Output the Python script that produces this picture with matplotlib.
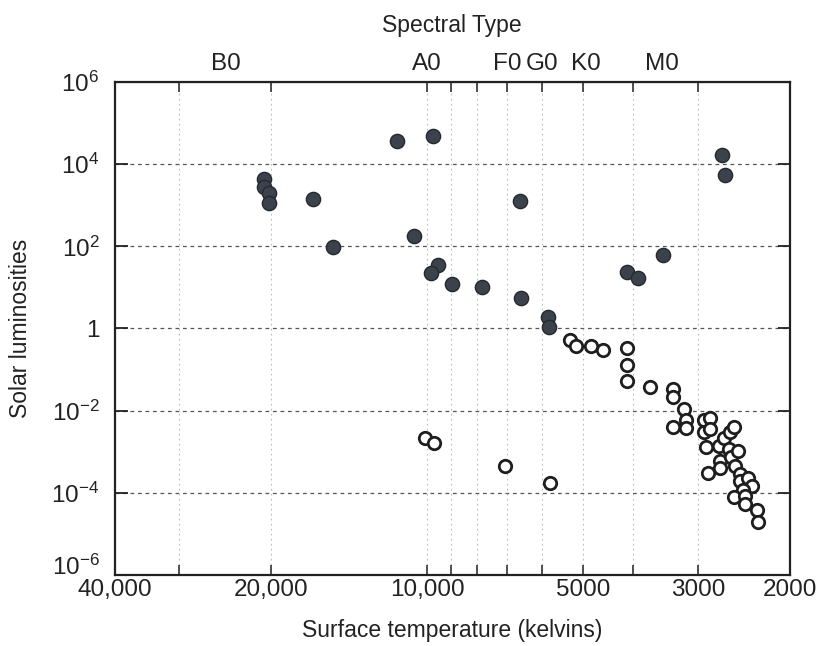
import matplotlib
matplotlib.use("Agg")
import matplotlib.pyplot as plt
from matplotlib.ticker import FixedLocator, NullFormatter, FixedFormatter

plt.rcParams['font.family'] = ['Liberation Sans', 'DejaVu Sans']
plt.rcParams['mathtext.default'] = 'regular'

# Giants / main-sequence bright stars (filled)
filled_T = [11400, 9730, 20600, 20600, 20200, 20200, 16600, 15200, 10600, 9530,
            9820, 8950, 7830, 6620, 6580, 5850, 5830, 2700, 2660, 3500, 4120, 3920]
filled_L = [3.6e4, 4.8e4, 4.3e3, 2.8e3, 1.95e3, 1.15e3, 1.4e3, 95, 175, 35,
            23, 12, 10, 1.3e3, 5.6, 1.9, 1.1, 1.7e4, 5.4e3, 63, 24, 17]

# Faint nearby stars and white dwarfs (open)
open_T = [5310, 5160, 4830, 4585, 4110, 4110, 4110, 3710, 3350, 3350,
          3190, 3350, 3160, 3160, 2930, 2920, 2850, 2850, 2900, 2870,
          2740, 2720, 2720, 2670, 2610, 2560, 2620, 2590, 2510, 2550,
          2490, 2490, 2410, 2360, 2460, 2560, 2440, 2440, 2310, 2300,
          10100, 9680, 7080, 5780]
open_L = [0.52, 0.38, 0.38, 0.30, 0.34, 0.13, 0.052, 0.038, 0.034, 0.022,
          0.011, 4.1e-3, 5.9e-3, 3.7e-3, 5.9e-3, 3.1e-3, 6.6e-3, 3.5e-3, 1.3e-3, 3.0e-4,
          1.35e-3, 5.8e-4, 4.0e-4, 2.2e-3, 3.1e-3, 4.0e-3, 1.15e-3, 7.6e-4, 1.05e-3, 4.4e-4,
          2.9e-4, 1.95e-4, 2.3e-4, 1.5e-4, 1.15e-4, 7.9e-5, 8.3e-5, 5.4e-5, 3.8e-5, 1.95e-5,
          2.2e-3, 1.6e-3, 4.4e-4, 1.7e-4]

x_major = [40000, 20000, 10000, 5000, 3000, 2000]
x_major_labels = ['40,000', '20,000', '10,000', '5000', '3000', '2000']
x_minor = [30000, 9000, 8000, 7000, 6000, 4000]

y_ticks = [1e-6, 1e-4, 1e-2, 1, 1e2, 1e4, 1e6]
y_labels = ['$10^{-6}$', '$10^{-4}$', '$10^{-2}$', '1', '$10^{2}$', '$10^{4}$', '$10^{6}$']
y_grid = [1e-4, 1e-2, 1, 1e2, 1e4]

spectral_types = ['B0', 'A0', 'F0', 'G0', 'K0', 'M0']
spectral_T = [24400, 10000, 7000, 6000, 4950, 3520]

FT = 17.5   # tick labels
FL = 16.5   # axis labels
TXT = '#222222'
YPAD = 11

fig = plt.figure(figsize=(8.25, 6.46), dpi=100)
ax = fig.add_axes([0.139, 0.110, 0.818, 0.763])

ax.set_xscale('log')
ax.set_yscale('log')
ax.set_xlim(40000, 2000)
ax.set_ylim(1e-6, 1e6)

# grid lines
for v in y_grid:
    ax.axhline(v, color='#555555', lw=0.9, ls=(0, (3, 3)), zorder=1)
ax.xaxis.set_major_locator(FixedLocator(x_major))
ax.xaxis.set_major_formatter(FixedFormatter(x_major_labels))
ax.xaxis.set_minor_locator(FixedLocator(x_minor))
ax.xaxis.set_minor_formatter(NullFormatter())
ax.grid(True, axis='x', which='both', color='#bbbbbb', lw=0.8, ls=(0, (1.5, 3)), zorder=0)

# lowest y label is drawn separately, nudged up so it clears the 40,000 label
ax.yaxis.set_major_locator(FixedLocator(y_ticks))
ax.yaxis.set_major_formatter(FixedFormatter([''] + y_labels[1:]))
ax.yaxis.set_minor_locator(FixedLocator([]))
ax.annotate(y_labels[0], xy=(0, y_ticks[0]), xycoords=('axes fraction', 'data'),
            xytext=(-YPAD, 7), textcoords='offset points', ha='right',
            va='center_baseline', fontsize=FT, color=TXT)

ax.scatter(filled_T, filled_L, s=105, facecolor='#3b424c', edgecolor='#25292e',
           linewidths=1.0, zorder=3)
ax.scatter(open_T, open_L, s=80, facecolor='white', edgecolor='#1e1e1e',
           linewidths=2.0, zorder=3)

ax.tick_params(axis='x', which='both', direction='in', top=True, bottom=True,
               length=7, width=1.1, labelsize=FT, pad=3, colors=TXT)
ax.tick_params(axis='y', which='both', direction='in', left=True, right=True,
               length=9, width=1.3, labelsize=FT, pad=YPAD, colors=TXT)
for t in ax.xaxis.get_major_ticks():
    if t.get_loc() == 10000:
        t.tick1line.set_markersize(13)
        t.tick2line.set_markersize(13)

for sp in ax.spines.values():
    sp.set_linewidth(1.6)
    sp.set_color(TXT)

ax.set_xlabel('Surface temperature (kelvins)', fontsize=FL, labelpad=13, color=TXT)
ax.set_ylabel('Solar luminosities', fontsize=FL, labelpad=14, color=TXT)

sec = ax.secondary_xaxis('top')
sec.set_xticks(spectral_T)
sec.set_xticklabels(spectral_types)
sec.xaxis.set_minor_locator(FixedLocator([]))
sec.tick_params(axis='x', length=0, labelsize=FT, pad=5, colors=TXT)
sec.set_xlabel('Spectral Type', fontsize=FL, labelpad=15, color=TXT)

fig.savefig('out.png', dpi=100)
